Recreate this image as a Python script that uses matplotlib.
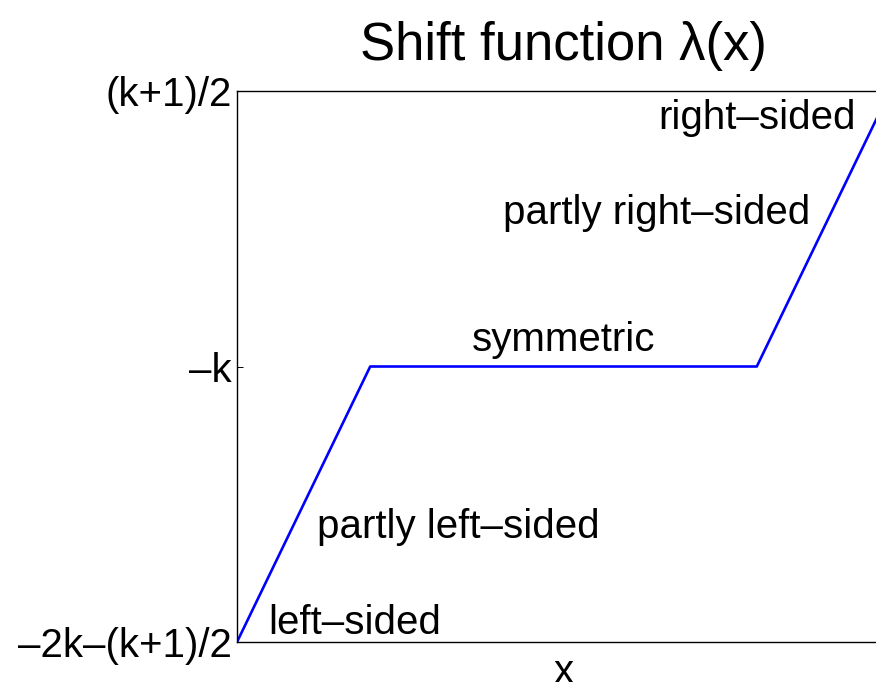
import matplotlib
matplotlib.use("Agg")
import matplotlib.pyplot as plt

plt.rcParams['font.family'] = ['Liberation Sans', 'DejaVu Sans']

# piecewise linear shift function (k = 1)
x_vals = [0.0, 0.204, 0.796, 1.0]
lam_vals = [-3.0, -1.0, -1.0, 1.0]

y_ticks = [-3, -1, 1]
y_tick_labels = ['–2k–(k+1)/2', '–k', '(k+1)/2']

region_labels = ['right–sided', 'partly right–sided', 'symmetric',
                 'partly left–sided', 'left–sided']
region_x = [0.645, 0.407, 0.360, 0.1225, 0.0475]
region_y = [0.725, 0.035, -0.885, -2.245, -2.945]

fig = plt.figure(figsize=(8.76, 6.82), dpi=100)
ax = fig.add_axes([237 / 876, 40 / 682, 653 / 876, 551 / 682])

ax.plot(x_vals, lam_vals, color=(0, 0, 1), lw=1.9, solid_capstyle='butt')

ax.set_xlim(0, 1)
ax.set_ylim(-3, 1)
ax.set_xticks([])
ax.set_yticks(y_ticks)
ax.set_yticklabels(y_tick_labels)
ax.tick_params(axis='y', direction='in', length=4.5, width=0.7,
               labelsize=29, pad=4, right=True, colors='black')

for s in ax.spines.values():
    s.set_linewidth(1.0)
    s.set_color('black')

for txt, tx, ty in zip(region_labels, region_x, region_y):
    ax.text(tx, ty, txt, fontsize=29, ha='left', va='baseline')

ax.set_title('Shift function λ(x)', fontsize=38, pad=22)
ax.set_xlabel('x', fontsize=29, labelpad=8)

fig.savefig('out.png', dpi=100)
